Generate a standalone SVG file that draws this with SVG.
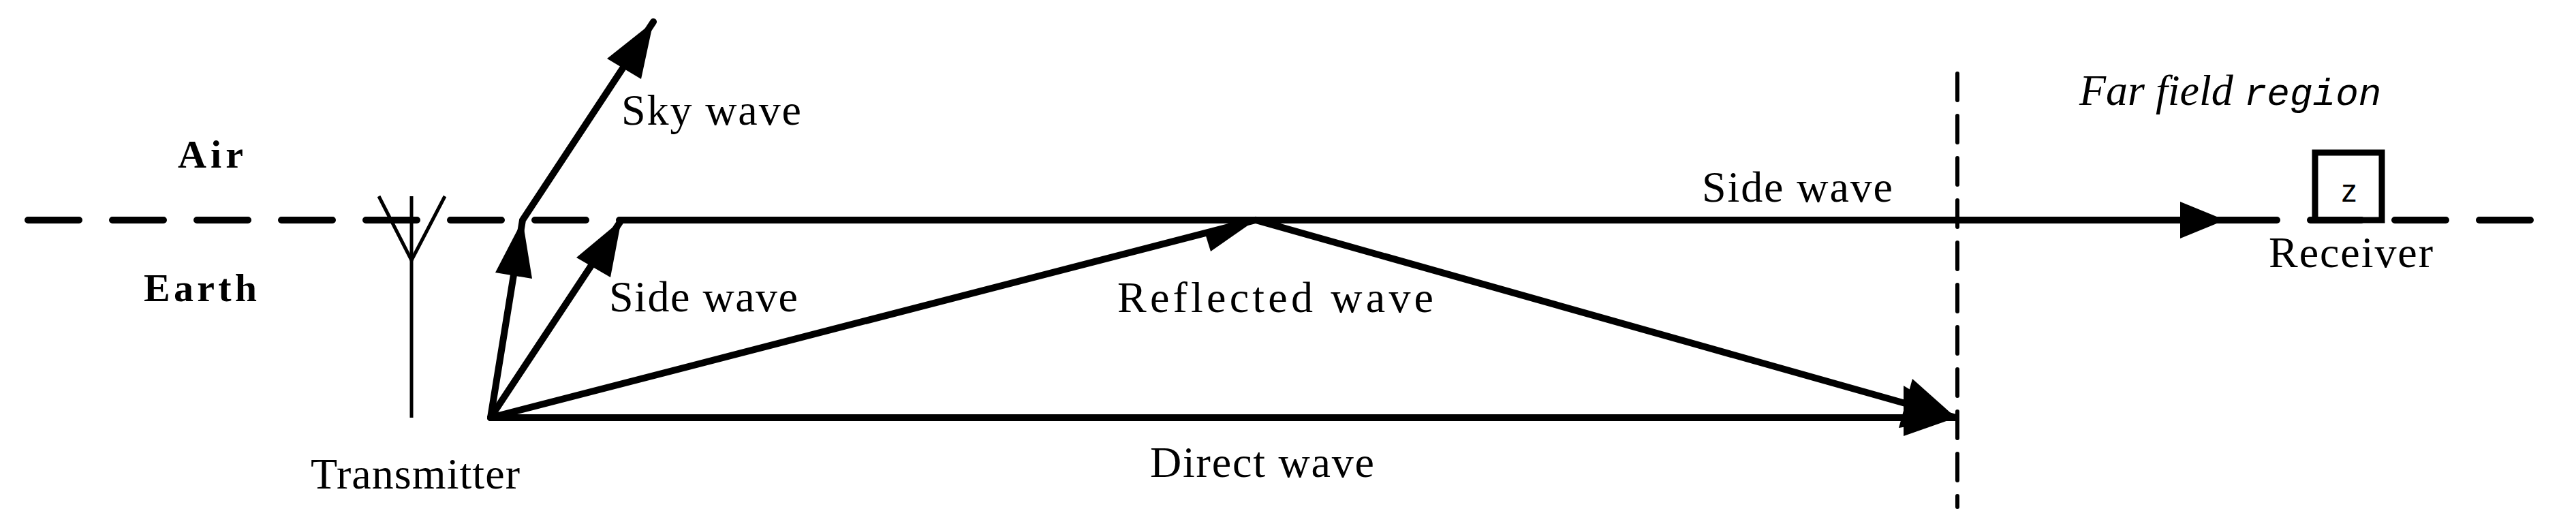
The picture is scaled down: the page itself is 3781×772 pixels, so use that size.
<svg xmlns="http://www.w3.org/2000/svg" width="3781" height="772" viewBox="0 0 3781 772">
<style>
.w{stroke:#000;stroke-width:10;fill:none;stroke-linecap:round}
.t{font-family:"Liberation Serif",serif;font-size:64px;fill:#000}
.b{font-weight:bold;font-size:58px}
.h{fill:#000;stroke:none}
</style>
<rect width="3781" height="772" fill="#fff"/>
<g id="ground">
<line x1="41" y1="323" x2="912" y2="323" class="w" stroke-dasharray="75 49"/>
<line x1="3391" y1="323" x2="3720" y2="323" class="w" stroke-dasharray="75 49"/>
</g>
<g id="farfield">
<line x1="2873" y1="108" x2="2873" y2="744" stroke="#000" stroke-width="6" stroke-dasharray="39 23" stroke-linecap="round"/>
</g>
<g id="antenna" stroke="#000" stroke-width="5" fill="none">
<line x1="604" y1="288" x2="604" y2="613"/>
<polyline points="556,288 604,382 653,288"/>
</g>
<g id="receiver">
<rect x="3398" y="224" width="98" height="99" fill="none" stroke="#000" stroke-width="9"/>
<text x="3448" y="296" text-anchor="middle" style="font-family:'Liberation Sans',sans-serif;font-size:46px">z</text>
</g>
<g id="connectors">
<polyline class="w" points="720,613 767,323 959,32"/>
<polygon class="h" points="959,32 891,86 941,116"/>
<polygon class="h" points="767,323 727,400 781,409"/>
<line class="w" x1="720" y1="613" x2="912" y2="323"/>
<polygon class="h" points="912,323 846,378 896,407"/>
<line class="w" x1="912" y1="323" x2="3342" y2="323"/>
<polygon class="h" points="3266,323 3200,296 3200,350"/>
<polyline class="w" points="720,613 1843,323 2871,613"/>
<polygon class="h" points="1843,323 1768,340 1777,369"/>
<polygon class="h" points="2871,613 2807,556 2787,628"/>
<line class="w" x1="720" y1="613" x2="2871" y2="613"/>
<polygon class="h" points="2871,613 2794,566 2794,640"/>
</g>
<g id="labels">
<text class="t b" x="261" y="246" textLength="96">Air</text>
<text class="t b" x="211" y="442" textLength="166">Earth</text>
<text class="t" x="912" y="183" textLength="264">Sky wave</text>
<text class="t" x="894" y="457" textLength="277">Side wave</text>
<text class="t" x="456" y="717" textLength="307">Transmitter</text>
<text class="t" x="1640" y="458" textLength="464">Reflected wave</text>
<text class="t" x="1688" y="700" textLength="329">Direct wave</text>
<text class="t" x="2498" y="296" textLength="280">Side wave</text>
<text class="t" x="3052" y="154" font-style="italic">Far field <tspan style="font-family:'Liberation Mono',monospace;font-size:56px">region</tspan></text>
<text class="t" x="3330" y="392" textLength="241">Receiver</text>
</g>
</svg>
